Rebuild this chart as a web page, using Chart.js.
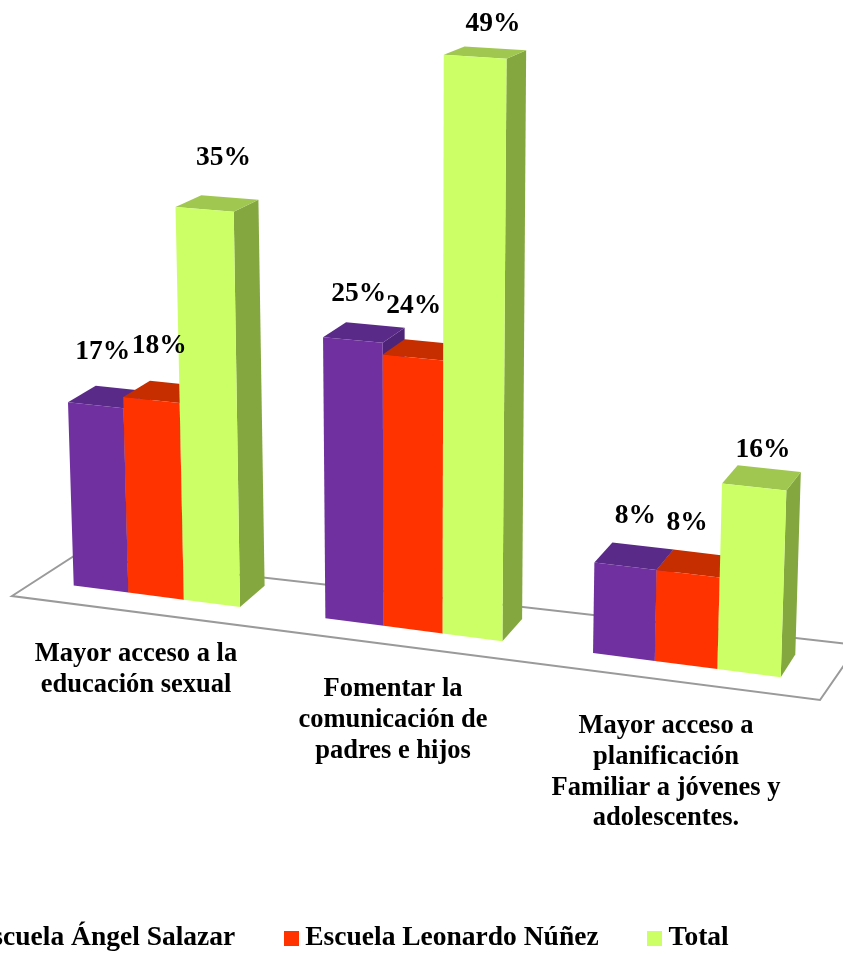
<!DOCTYPE html>
<html>
<head>
<meta charset="utf-8">
<script src="https://cdn.jsdelivr.net/npm/chart.js@4/dist/chart.umd.js"></script>
<style>
    html, body { margin: 0; padding: 0; background: #fff; overflow: hidden; width: 843px; height: 954px; }
    #wrap { position: absolute; left: -156px; top: 0; width: 1000px; height: 954px; }
</style>
</head>
<body>
<div id="wrap"><canvas id="chart"></canvas></div>
<script>
const categories = [
    ['Mayor acceso a la', 'educación sexual'],
    ['Fomentar la', 'comunicación de', 'padres e hijos'],
    ['Mayor acceso a', 'planificación', 'Familiar a jóvenes y', 'adolescentes.']
];
const seriesNames = ['Escuela Ángel Salazar', 'Escuela Leonardo Núñez', 'Total'];
const angelSalazar = [17, 25, 8];
const leonardoNunez = [18, 24, 8];
const total = [35, 49, 16];

const frontColors = ['#7030A0', '#FF3300', '#CCFF66'];
const topColors = ['#5A2A88', '#C62E00', '#A0C850'];
const sideColors = ['#4E2478', '#A82800', '#84A83F'];

// where each % label sits, relative to the top of its bar
const labelOffsets = [
    [[7, -53], [6, -46], [10, -50]],
    [[8, -54], [1, -52], [-1, -51]],
    [[19, -52], [18, -33], [9, -37]]
];

const pageLeft = 156; // canvas is shifted left so the first legend entry is cut, as in the picture

// fake perspective: u is the scale's x in page pixels, h the bar height in pixels
function groundX(u) {
    let t = (u - 421) / 265;
    return u - 8 + 8 * t * t;
}

function project(x, h, zero) {
    let hh = 1.005 * h * (1 + 0.00015 * h);
    let slope = 0.13 - 0.00012 * hh;
    return {
        x: 420 + (x - 420) * (1 + 0.00009 * hh),
        y: zero + slope * (x - 128) - hh
    };
}

function depth(p) {
    return { x: p.x + 29 - 0.0185 * p.x, y: p.y - 7 - 0.0235 * p.y };
}

function fillPoly(ctx, color, pts) {
    ctx.fillStyle = color;
    ctx.beginPath();
    pts.forEach((p, i) => i ? ctx.lineTo(p.x, p.y) : ctx.moveTo(p.x, p.y));
    ctx.closePath();
    ctx.fill();
}

function legendSquare(color) {
    const c = document.createElement('canvas');
    c.width = 15;
    c.height = 15;
    const g = c.getContext('2d');
    g.fillStyle = color;
    g.fillRect(0, 0, 15, 15);
    return c;
}

const perspectiveBars = {
    id: 'perspectiveBars',
    beforeDatasetDraw() {
        return false;
    },
    beforeDatasetsDraw(chart) {
        const ctx = chart.ctx;
        ctx.save();
        ctx.translate(pageLeft, 0);

        // floor
        ctx.fillStyle = '#fff';
        ctx.strokeStyle = '#9a9a9a';
        ctx.lineWidth = 2;
        ctx.beginPath();
        ctx.moveTo(12, 596);
        ctx.lineTo(74, 556);
        ctx.lineTo(858, 645);
        ctx.lineTo(820, 700);
        ctx.closePath();
        ctx.fill();
        ctx.stroke();

        const zero = chart.scales.y.getPixelForValue(0);
        for (let g = 0; g < categories.length; g++) {
            for (let d = 0; d < seriesNames.length; d++) {
                const bar = chart.getDatasetMeta(d).data[g];
                const h = zero - bar.y;
                const x0 = groundX(bar.x - pageLeft - bar.width / 2);
                const x1 = groundX(bar.x - pageLeft + bar.width / 2);
                const bl = project(x0, 0, zero), br = project(x1, 0, zero);
                const tl = project(x0, h, zero), tr = project(x1, h, zero);
                fillPoly(ctx, sideColors[d], [br, tr, depth(tr), depth(br)]);
                fillPoly(ctx, topColors[d], [tl, tr, depth(tr), depth(tl)]);
                fillPoly(ctx, frontColors[d], [bl, tl, tr, br]);
            }
        }
        ctx.restore();
    },
    afterDatasetsDraw(chart) {
        const ctx = chart.ctx;
        const zero = chart.scales.y.getPixelForValue(0);
        ctx.save();
        ctx.translate(pageLeft, 0);
        ctx.fillStyle = '#000';
        ctx.textAlign = 'center';
        ctx.textBaseline = 'middle';

        // % labels
        ctx.font = 'bold 27.5px "Liberation Serif"';
        chart.data.datasets.forEach((ds, d) => {
            chart.getDatasetMeta(d).data.forEach((bar, g) => {
                const top = project(groundX(bar.x - pageLeft), zero - bar.y, zero);
                const off = labelOffsets[d][g];
                ctx.fillText(ds.data[g] + '%', top.x + off[0], top.y + off[1]);
            });
        });

        // category labels follow the slope of the floor
        ctx.font = 'bold 26.5px "Liberation Serif"';
        categories.forEach((lines, g) => {
            const x = groundX(chart.scales.x.getPixelForTick(g) - pageLeft) - 20;
            const y = project(x, 0, zero).y + 61 + (x - 136) * 0.0056;
            lines.forEach((line, i) => ctx.fillText(line, x, y + i * 30.7));
        });
        ctx.restore();
    }
};

function hiddenAxis(extra) {
    return Object.assign({
        grid: { display: false },
        border: { display: false },
        ticks: { display: false }
    }, extra);
}

new Chart(document.getElementById('chart'), {
    type: 'bar',
    data: {
        labels: categories,
        datasets: [
            { label: seriesNames[0], data: angelSalazar, backgroundColor: frontColors[0] },
            { label: seriesNames[1], data: leonardoNunez, backgroundColor: frontColors[1] },
            { label: seriesNames[2], data: total, backgroundColor: frontColors[2] }
        ]
    },
    options: {
        responsive: true,
        maintainAspectRatio: false,
        animation: false,
        categoryPercentage: 0.668,
        barPercentage: 1,
        layout: { padding: { top: 14.5, bottom: -8 } },
        scales: {
            x: hiddenAxis({ afterFit(scale) { scale.height = 276.75; } }),
            y: hiddenAxis({ min: 0, max: 55, afterFit(scale) { scale.width = 179.5; } }),
            yRight: hiddenAxis({ position: 'right', afterFit(scale) { scale.width = 25.5; } })
        },
        plugins: {
            tooltip: { enabled: false },
            legend: {
                position: 'bottom',
                labels: {
                    color: '#000',
                    usePointStyle: true,
                    boxWidth: 1,
                    padding: 55.25,
                    font: { family: 'Liberation Serif', weight: 'bold', size: 27.5 },
                    generateLabels(chart) {
                        const items = Chart.defaults.plugins.legend.labels.generateLabels(chart);
                        items.forEach((item, i) => { item.pointStyle = legendSquare(frontColors[i]); });
                        return items;
                    }
                }
            }
        }
    },
    plugins: [perspectiveBars]
});
</script>
</body>
</html>
